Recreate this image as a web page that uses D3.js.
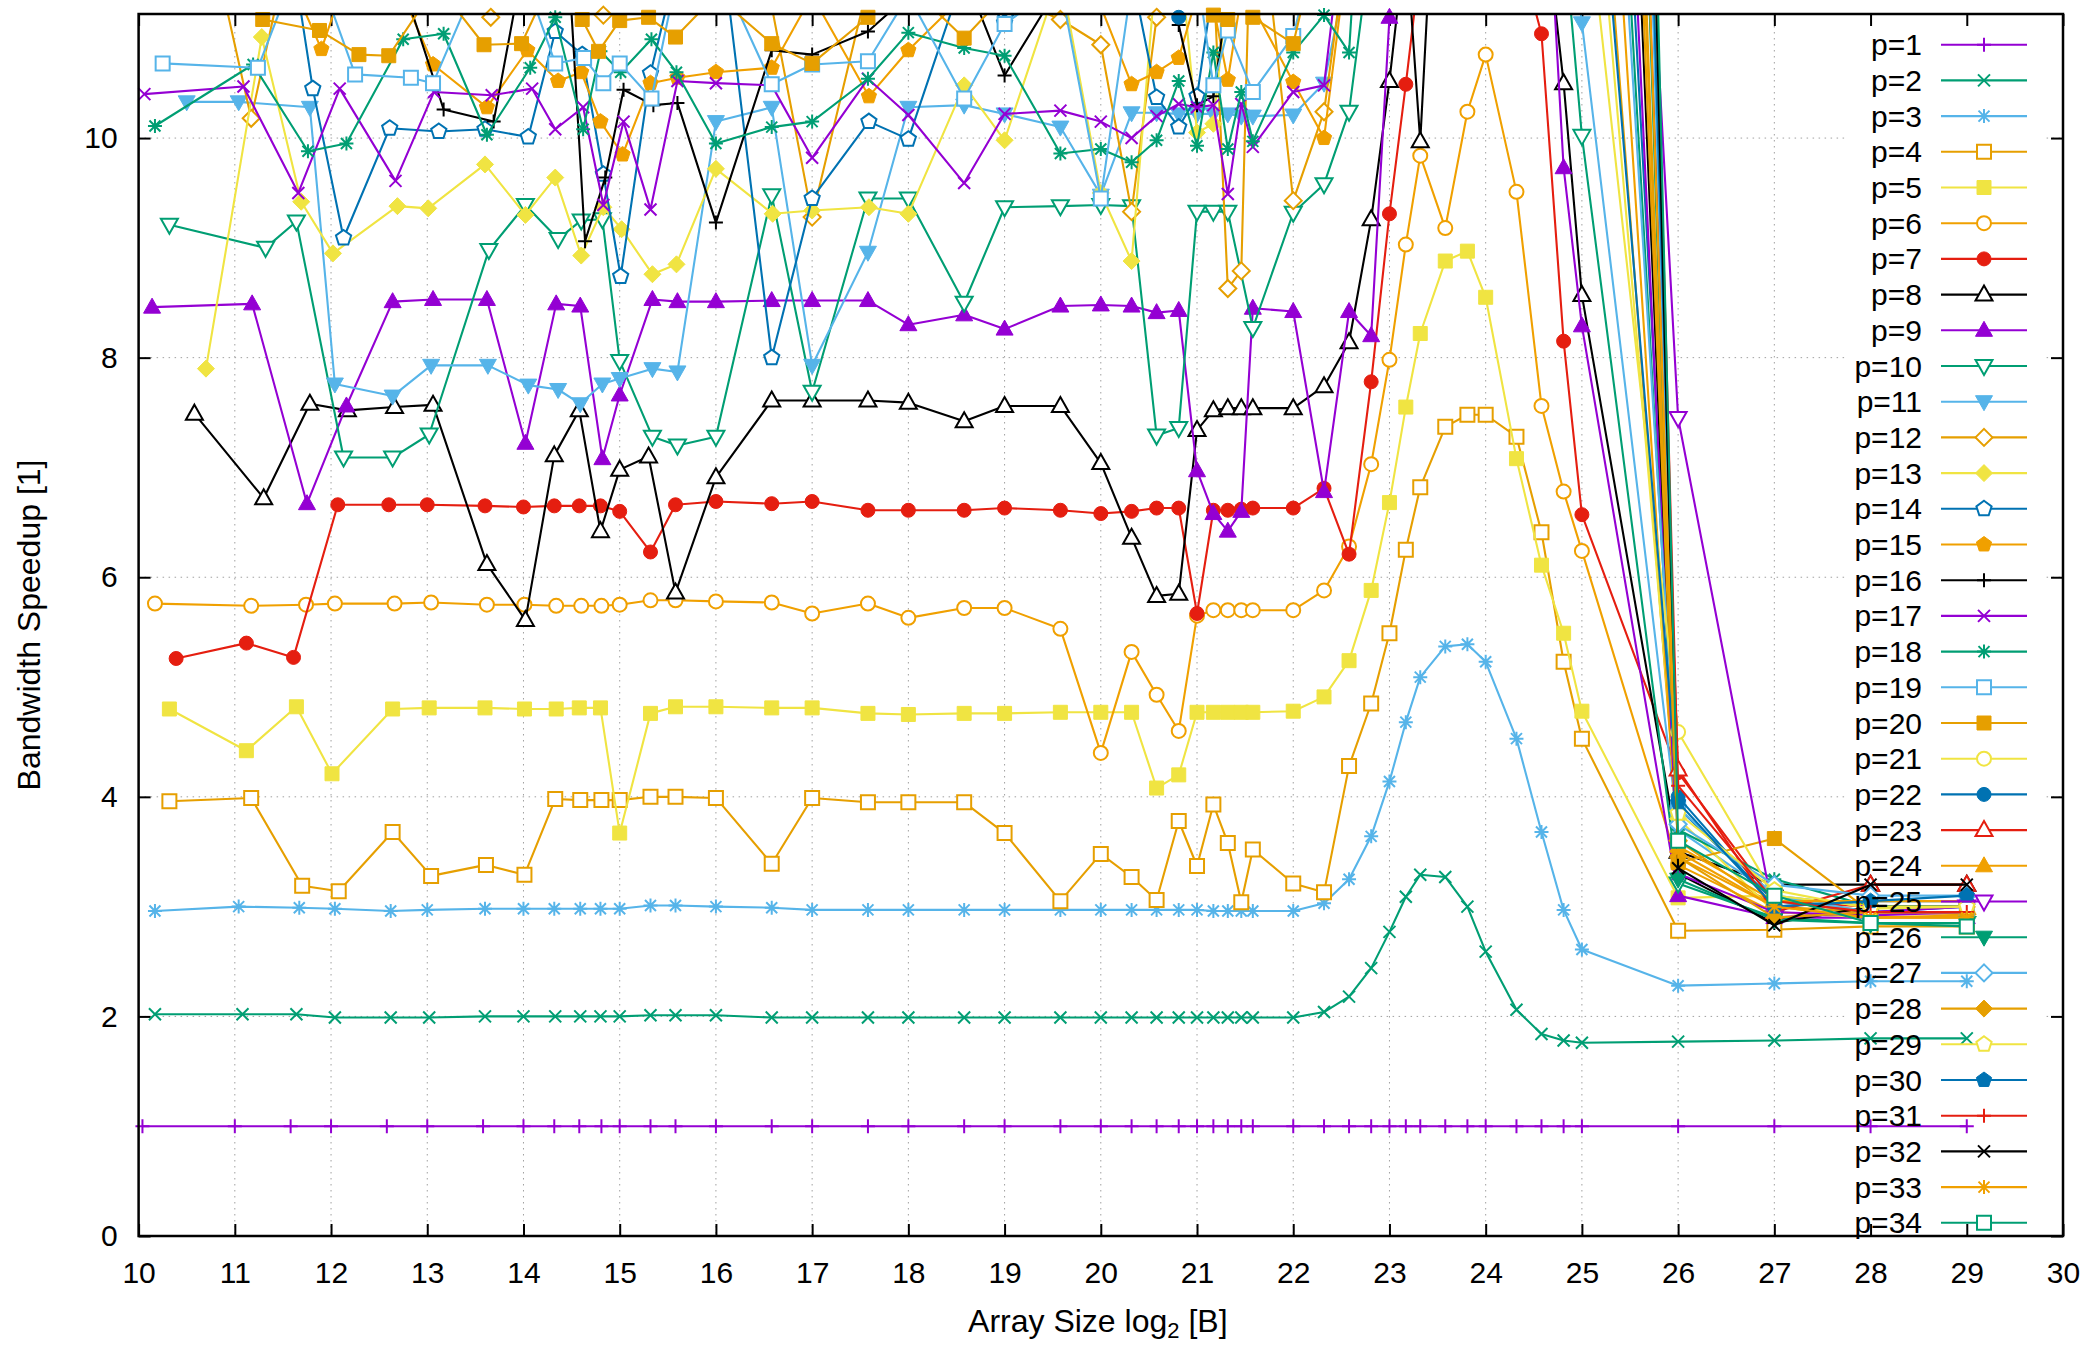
<!DOCTYPE html>
<html><head><meta charset="utf-8">
<script src="https://cdn.jsdelivr.net/npm/d3@7"></script>
<style>
body{margin:0;background:#fff}
svg{display:block}
text{font-family:"Liberation Sans",Arial,sans-serif}
</style>
</head><body>
<svg id="c" width="2090" height="1347"></svg>
<script>
// ---------------- DATA ----------------
const xTicks = [10,11,12,13,14,15,16,17,18,19,20,21,22,23,24,25,26,27,28,29,30];
const yTicks = [0,2,4,6,8,10];
const seriesNames = d3.range(1,35).map(p => "p=" + p);
const seriesColors = ["#9400d3","#009e73","#56b4e9","#e69f00","#f0e442","#f0a000","#e51e10","#000000",
  "#9400d3","#009e73","#56b4e9","#e69f00","#f0e442","#0072b2","#f0a000","#000000",
  "#9400d3","#009e73","#56b4e9","#e69f00","#f0e442","#0072b2","#e51e10","#f0a000",
  "#9400d3","#009e73","#56b4e9","#e69f00","#f0e442","#0072b2","#e51e10","#000000","#f0a000","#009e73"];

const sizes = [10.04,11,11.58,12,12.58,13,13.58,14,14.32,14.58,14.81,15,15.32,15.58,16,16.58,17,17.58,18,18.58,19,19.58,20,20.32,20.58,20.81,21,21.17,21.32,21.46,21.58,22,22.32,22.58,22.81,23,23.17,23.32,23.58,23.81,24,24.32,24.58,24.81,25,26,27,28,29];
const p1 = [1,1,1,1,1,1,1,1,1,1,1,1,1,1,1,1,1,1,1,1,1,1,1,1,1,1,1,1,1,1,1,1,1,1,1,1,1,1,1,1,1,1,1,1,1,1,1,1,1];

const p2 = [[10.17,2.02],[11.08,2.02],[11.64,2.02],[12.04,1.99],[12.62,1.99],[13.02,1.99],[13.6,2.0],[14.0,2.0],[14.33,2.0],[14.59,2.0],[14.8,2.0],[15.0,2.0],[15.32,2.01],[15.58,2.01],[16,2.01],[16.58,1.99],[17,1.99],[17.58,1.99],[18,1.99],[18.58,1.99],[19,1.99],[19.58,1.99],[20,1.99],[20.32,1.99],[20.58,1.99],[20.81,1.99],[21,1.99],[21.17,1.99],[21.32,1.99],[21.46,1.99],[21.58,1.99],[22,1.99],[22.32,2.04],[22.58,2.18],[22.81,2.44],[23,2.77],[23.17,3.09],[23.32,3.29],[23.58,3.27],[23.81,3.0],[24,2.59],[24.32,2.06],[24.58,1.84],[24.81,1.78],[25,1.76],[26,1.77],[27,1.78],[28,1.8],[29,1.8]];
const p3 = [[10.17,2.96],[11.04,3.0],[11.67,2.99],[12.04,2.98],[12.62,2.96],[13.0,2.97],[13.6,2.98],[14.0,2.98],[14.32,2.98],[14.59,2.98],[14.8,2.98],[15.0,2.98],[15.32,3.01],[15.58,3.01],[16,3.0],[16.58,2.99],[17,2.97],[17.58,2.97],[18,2.97],[18.58,2.97],[19,2.97],[19.58,2.97],[20,2.97],[20.32,2.97],[20.58,2.97],[20.81,2.97],[21,2.97],[21.17,2.96],[21.32,2.96],[21.46,2.96],[21.58,2.96],[22,2.96],[22.32,3.03],[22.58,3.25],[22.81,3.64],[23,4.14],[23.17,4.68],[23.32,5.09],[23.58,5.37],[23.81,5.39],[24,5.23],[24.32,4.53],[24.58,3.68],[24.81,2.97],[25,2.61],[26,2.28],[27,2.3],[28,2.32],[29,2.32]];
const p4 = [[10.32,3.96],[11.17,3.99],[11.7,3.19],[12.08,3.14],[12.64,3.68],[13.04,3.28],[13.61,3.38],[14.01,3.29],[14.33,3.98],[14.59,3.97],[14.81,3.97],[15.0,3.97],[15.32,4.0],[15.58,4.0],[16,3.99],[16.58,3.39],[17,3.99],[17.58,3.95],[18,3.95],[18.58,3.95],[19,3.67],[19.58,3.05],[20,3.48],[20.32,3.27],[20.58,3.06],[20.81,3.78],[21,3.37],[21.17,3.93],[21.32,3.58],[21.46,3.04],[21.58,3.52],[22,3.21],[22.32,3.13],[22.58,4.28],[22.81,4.85],[23,5.49],[23.17,6.25],[23.32,6.82],[23.58,7.37],[23.81,7.48],[24,7.48],[24.32,7.28],[24.58,6.41],[24.81,5.23],[25,4.53],[26,2.78],[27,2.79],[28,2.82],[29,2.82]];
const p5 = [[10.32,4.8],[11.12,4.42],[11.64,4.82],[12.01,4.21],[12.64,4.8],[13.02,4.81],[13.6,4.81],[14.01,4.8],[14.34,4.8],[14.58,4.81],[14.8,4.81],[15.0,3.67],[15.32,4.76],[15.58,4.82],[16,4.82],[16.58,4.81],[17,4.81],[17.58,4.76],[18,4.75],[18.58,4.76],[19,4.76],[19.58,4.77],[20,4.77],[20.32,4.77],[20.58,4.08],[20.81,4.2],[21,4.77],[21.17,4.77],[21.32,4.77],[21.46,4.77],[21.58,4.77],[22,4.78],[22.32,4.91],[22.58,5.24],[22.81,5.88],[23,6.68],[23.17,7.55],[23.32,8.22],[23.58,8.88],[23.81,8.97],[24,8.55],[24.32,7.08],[24.58,6.11],[24.81,5.49],[25,4.78],[26,3.08],[27,3.1],[28,2.95],[29,2.95]];
const p6 = [[10.17,5.76],[11.17,5.74],[11.74,5.75],[12.04,5.76],[12.66,5.76],[13.04,5.77],[13.62,5.75],[14.01,5.75],[14.34,5.74],[14.6,5.74],[14.81,5.74],[15.0,5.75],[15.32,5.79],[15.58,5.79],[16,5.78],[16.58,5.77],[17,5.67],[17.58,5.76],[18,5.63],[18.58,5.72],[19,5.72],[19.58,5.53],[20,4.4],[20.32,5.32],[20.58,4.93],[20.81,4.6],[21,5.65],[21.17,5.7],[21.32,5.7],[21.46,5.7],[21.58,5.7],[22,5.7],[22.32,5.88],[22.58,6.28],[22.81,7.03],[23,7.98],[23.17,9.03],[23.32,9.84],[23.58,9.18],[23.81,10.24],[24,10.76],[24.32,9.51],[24.58,7.56],[24.81,6.78],[25,6.24],[26,3.38],[27,2.95],[28,2.9],[29,2.9]];
const p7 = [[10.39,5.26],[11.12,5.4],[11.61,5.27],[12.07,6.66],[12.6,6.66],[13.0,6.66],[13.6,6.65],[14.0,6.64],[14.32,6.65],[14.58,6.65],[14.8,6.65],[15.0,6.6],[15.32,6.23],[15.58,6.66],[16,6.69],[16.58,6.67],[17,6.69],[17.58,6.61],[18,6.61],[18.58,6.61],[19,6.63],[19.58,6.61],[20,6.58],[20.32,6.6],[20.58,6.63],[20.81,6.63],[21,5.67],[21.17,6.61],[21.32,6.61],[21.46,6.62],[21.58,6.63],[22,6.63],[22.32,6.81],[22.58,6.21],[22.81,7.78],[23,9.31],[23.17,10.49],[23.32,11.6],[23.58,12.6],[23.81,13],[24,13],[24.32,11.8],[24.58,10.95],[24.81,8.15],[25,6.57],[26,4.22],[27,3.05],[28,3.0],[29,3.0]];
const p8 = [[10.58,7.49],[11.3,6.72],[11.78,7.58],[12.17,7.52],[12.66,7.55],[13.06,7.57],[13.62,6.12],[14.02,5.61],[14.32,7.11],[14.58,7.52],[14.8,6.42],[15.0,6.98],[15.3,7.1],[15.58,5.86],[16,6.91],[16.58,7.61],[17,7.61],[17.58,7.61],[18,7.59],[18.58,7.42],[19,7.56],[19.58,7.56],[20,7.04],[20.32,6.36],[20.58,5.83],[20.81,5.85],[21,7.34],[21.17,7.52],[21.32,7.54],[21.46,7.54],[21.58,7.54],[22,7.54],[22.32,7.74],[22.58,8.14],[22.81,9.26],[23,10.52],[23.17,11.85],[23.32,9.97],[23.58,14.3],[23.81,14.5],[24,14.5],[24.32,13.5],[24.58,12.3],[24.81,10.5],[25,8.57],[26,3.5],[27,3.2],[28,3.2],[29,3.2]];
const p9 = [[10.14,8.46],[11.18,8.49],[11.75,6.67],[12.16,7.56],[12.64,8.51],[13.06,8.53],[13.62,8.53],[14.02,7.22],[14.34,8.49],[14.59,8.47],[14.82,7.08],[15.0,7.66],[15.34,8.53],[15.6,8.51],[16,8.51],[16.58,8.52],[17,8.52],[17.58,8.52],[18,8.3],[18.58,8.39],[19,8.26],[19.58,8.47],[20,8.48],[20.32,8.47],[20.58,8.41],[20.81,8.43],[21,6.97],[21.17,6.58],[21.32,6.42],[21.46,6.6],[21.58,8.45],[22,8.42],[22.32,6.78],[22.58,8.42],[22.81,8.2],[23,11.1],[23.17,13],[23.32,14],[23.58,14.5],[23.81,14.5],[24,14.5],[24.32,14],[24.58,13.3],[24.81,9.73],[25,8.29],[26,3.1],[27,2.9],[28,2.9],[29,2.9]];
const p10 = [[10.32,9.21],[11.32,9.0],[11.64,9.24],[12.13,7.09],[12.64,7.09],[13.02,7.3],[13.64,8.98],[14.02,9.39],[14.36,9.08],[14.6,9.25],[14.82,9.26],[15.0,7.97],[15.34,7.28],[15.6,7.2],[16,7.28],[16.58,9.48],[17,7.69],[17.58,9.45],[18,9.45],[18.58,8.5],[19,9.37],[19.58,9.38],[20,9.39],[20.32,9.38],[20.58,7.29],[20.81,7.36],[21,9.33],[21.17,9.33],[21.32,9.33],[21.58,8.27],[22,9.32],[22.32,9.58],[22.58,10.24],[22.81,11.8],[23,13],[23.17,14],[23.32,14.8],[23.58,15.2],[23.81,15.4],[24,15.2],[24.32,14.6],[24.58,13.2],[24.81,11.9],[25,10.02],[26,3.21],[27,2.9],[28,2.85],[29,2.85]];
const p11 = [[10.5,10.33],[11.04,10.33],[11.78,10.28],[12.04,7.76],[12.64,7.65],[13.04,7.93],[13.63,7.93],[14.05,7.75],[14.36,7.71],[14.59,7.58],[14.82,7.76],[15.0,7.81],[15.34,7.9],[15.6,7.87],[16,10.15],[16.58,10.28],[17,7.93],[17.58,8.96],[18,10.28],[18.58,10.3],[19,10.22],[19.58,10.1],[20,9.48],[20.32,10.23],[20.58,10.23],[20.81,10.22],[21,10.22],[21.17,10.22],[21.32,10.22],[21.46,10.2],[21.58,10.2],[22,10.21],[22.32,10.5],[22.58,11.6],[22.81,13],[23,14],[23.32,15],[23.58,15.5],[24,15.5],[24.32,15],[24.58,14],[24.81,12.5],[25,11.05],[26,3.7],[27,3.1],[28,3.0],[29,3.0]];
const p12 = [[10.58,12.5],[11.17,10.18],[11.75,12.5],[12.17,12.2],[12.6,11.8],[13.04,11.6],[13.66,11.1],[14.04,11.4],[14.36,11.5],[14.6,11.3],[14.83,11.12],[15.04,11.5],[15.34,11.6],[15.6,11.3],[16,11.3],[16.58,11.2],[17,9.28],[17.58,11.4],[18,11.5],[18.58,11.6],[19,11.3],[19.58,11.08],[20,10.85],[20.32,9.33],[20.58,11.1],[20.81,11.3],[21,14.8],[21.32,8.63],[21.46,8.79],[21.58,12.8],[22,9.43],[22.32,10.24],[22.58,11.9],[22.81,14],[23,15],[23.58,16],[24,16.5],[24.58,16.5],[24.81,16],[25,15],[26,3.6],[27,3.0],[28,2.95],[29,2.93]];
const p13 = [[10.7,7.9],[11.28,10.92],[11.69,9.42],[12.02,8.95],[12.69,9.38],[13.01,9.36],[13.6,9.76],[14.02,9.3],[14.33,9.64],[14.6,8.93],[14.83,9.37],[15.02,9.17],[15.34,8.76],[15.59,8.85],[16,9.72],[16.59,9.31],[17,9.34],[17.59,9.37],[18,9.31],[18.58,10.48],[19,9.98],[19.58,11.5],[20,9.5],[20.32,8.88],[20.58,11.6],[20.81,11.8],[21,10.05],[21.17,10.13],[21.32,11.4],[21.46,11.5],[21.58,11.6],[22,11.8],[22.32,12.5],[22.58,13.5],[23,15],[23.58,16],[24,16.5],[24.58,16],[24.81,15],[25,14],[26,3.8],[27,2.95],[28,2.9],[29,2.9]];
const p14 = [[10.58,12.3],[11.2,13.9],[11.81,10.45],[12.13,9.09],[12.61,10.09],[13.12,10.06],[13.6,10.08],[14.05,10.01],[14.33,10.97],[14.61,10.76],[14.83,9.67],[15.01,8.74],[15.32,10.59],[15.6,11.6],[16,12.2],[16.58,8.0],[17,9.45],[17.59,10.15],[18,9.99],[18.58,11.5],[19,11.05],[19.58,11.5],[20,11.6],[20.32,11.5],[20.58,10.37],[20.81,10.1],[21,10.38],[21.17,11.4],[21.32,11.5],[21.58,11.6],[22,11.7],[22.58,13],[23,14.5],[23.58,16],[24,17],[24.58,18],[24.81,19],[25,20],[26,3.9],[27,3.05],[28,2.95],[29,3.0]];
const p15 = [[10.58,12.4],[11.2,12.2],[11.9,10.81],[12.17,11.5],[12.6,11.6],[13.06,10.67],[13.62,10.28],[14.04,10.8],[14.36,10.52],[14.6,10.6],[14.8,10.15],[15.03,9.85],[15.32,10.5],[15.6,10.55],[16,10.6],[16.58,10.64],[17,11.3],[17.59,10.38],[18,10.8],[18.58,11.3],[19,11.5],[19.58,11.3],[20,11.2],[20.32,10.49],[20.58,10.6],[20.81,10.73],[21,11.3],[21.17,11.2],[21.32,10.53],[21.46,11.3],[21.58,11.2],[22,10.51],[22.32,10.0],[22.58,11.8],[23,14],[23.58,15.5],[24,16],[24.58,17],[24.81,17.5],[25,17],[26,3.45],[27,3.0],[28,2.9],[29,2.92]];
const p16 = [[10.58,12.5],[11.17,12.4],[11.75,12.2],[12.17,12],[12.6,11.8],[13.17,10.26],[13.69,10.15],[14.04,11.8],[14.36,13.2],[14.64,9.06],[14.85,9.64],[15.04,10.44],[15.35,10.3],[15.6,10.32],[16,9.23],[16.58,10.8],[17,10.76],[17.58,10.97],[18,11.3],[18.58,11.5],[19,10.57],[19.58,11.4],[20,11.5],[20.32,11.6],[20.58,11.4],[20.81,11.03],[21,10.3],[21.17,10.38],[21.32,11.3],[21.46,11.5],[21.58,11.6],[22,11.8],[22.58,13],[23,15],[23.58,17],[24,18],[24.58,20],[24.81,22],[25,24],[26,3.3],[27,2.85],[28,3.0],[29,3.0]];
const p17 = [[10.06,10.4],[11.09,10.47],[11.66,9.5],[12.09,10.45],[12.67,9.61],[13.07,10.42],[13.67,10.39],[14.09,10.45],[14.33,10.08],[14.62,10.28],[14.83,9.39],[15.04,10.15],[15.32,9.35],[15.6,10.52],[16,10.5],[16.58,10.48],[17,9.82],[17.58,10.54],[18,10.21],[18.58,9.59],[19,10.22],[19.58,10.25],[20,10.15],[20.32,10.0],[20.58,10.2],[20.81,10.31],[21,10.28],[21.17,10.3],[21.32,9.49],[21.46,10.31],[21.58,9.92],[22,10.42],[22.32,10.48],[22.58,12.4],[23,14],[23.58,16],[24,17],[24.58,19],[24.81,21],[25,22],[26,3.3],[27,2.95],[28,2.92],[29,2.95]];
const p18 = [[10.17,10.11],[11.19,10.67],[11.76,9.88],[12.16,9.95],[12.75,10.9],[13.17,10.95],[13.62,10.03],[14.07,10.64],[14.33,11.1],[14.62,10.08],[14.8,10.79],[15.01,10.6],[15.33,10.9],[15.59,10.6],[16,9.95],[16.58,10.1],[17,10.15],[17.58,10.54],[18,10.96],[18.58,10.82],[19,10.75],[19.58,9.86],[20,9.9],[20.32,9.78],[20.58,9.98],[20.81,10.52],[21,9.93],[21.17,10.78],[21.32,9.9],[21.46,10.42],[21.58,9.97],[22,10.78],[22.32,11.12],[22.58,10.78],[22.81,14],[23,15],[23.58,17],[24,18],[24.58,18.5],[24.81,19],[25,19],[26,3.7],[27,3.25],[28,3.0],[29,3.0]];
const p19 = [[10.25,10.68],[11.24,10.64],[11.75,11.8],[12.25,10.58],[12.83,10.55],[13.06,10.5],[13.6,11.6],[14.0,11.5],[14.33,10.68],[14.63,10.73],[14.83,10.5],[15.0,10.68],[15.33,10.36],[15.6,11.5],[16,11.6],[16.58,10.49],[17,10.67],[17.58,10.7],[18,11.3],[18.58,10.36],[19,11.04],[19.58,11.4],[20,9.45],[20.32,11.4],[20.58,11.5],[20.81,11.6],[21,11.5],[21.17,10.48],[21.32,10.98],[21.58,10.42],[22,10.93],[22.58,13],[23,14.5],[23.58,16],[24,17],[24.58,17.5],[24.81,18],[25,18],[26,3.9],[27,3.1],[28,2.95],[29,2.95]];
const p20 = [[10.58,12],[11.29,11.08],[11.88,10.98],[12.29,10.76],[12.6,10.75],[13.1,11.4],[13.59,10.85],[13.98,10.86],[14.32,11.5],[14.61,11.08],[14.78,10.79],[15.0,11.07],[15.3,11.1],[15.58,10.92],[16,11.3],[16.58,10.86],[17,10.68],[17.58,11.1],[18,11.4],[18.58,10.91],[19,11.3],[19.58,11.5],[20,11.6],[20.32,11.5],[20.58,11.4],[20.81,11.3],[21,11.4],[21.17,11.12],[21.32,11.08],[21.46,11.3],[21.58,11.1],[22,10.86],[22.58,13],[23,15],[23.58,18],[24,20],[24.58,22],[24.81,24],[25,25],[26,3.4],[27,3.62],[28,2.95],[29,2.95]];
const p21 = [[10.04,12.5],[11,12.8],[12,13],[13,13.2],[14,13],[15,13.4],[16,13.5],[17,13.6],[18,13.8],[19,14],[20,14],[21,14.2],[22,14.5],[22.58,16],[23,18],[23.58,20],[24,21],[24.58,19],[24.81,15],[25,12.6],[26,4.59],[27,3.1],[28,3.0],[29,3.0]];
const p22 = [[10.04,13],[11,13.2],[12,13.5],[13,13.6],[14,13.8],[15,14],[16,14.2],[17,14.3],[18,14.5],[19,14.5],[20,13],[20.58,12],[20.81,11.1],[21,12.5],[22,14],[22.58,16],[23,18],[23.58,20],[24,21],[24.58,19],[24.81,16.5],[25,14.5],[26,4.0],[27,3.0],[28,3.05],[29,3.05]];
const hiSizes = [10.04,12,14,16,18,20,22,23,24,24.58,24.81,25,26,27,28,29];
const p23 = [13.5,14,14.2,14.5,14.8,15,15.5,19,23,26,27,28,4.25,2.95,3.2,3.2];
const p24 = [14,14.2,14.5,14.8,15,15.3,15.8,19.5,23.5,25,26,26,3.55,3.05,3.05,3.05];
const p25 = [14,14.5,14.8,15,15.3,15.6,16,20,24,25,24.5,23.4,7.45,2.9,2.95,3.0];
const p26 = [14.5,15,15.2,15.5,15.8,16,16.5,20.5,25,28,29,30,3.25,2.88,2.85,2.85];
const p27 = [15,15.3,15.6,16,16.2,16.5,17,21,26,29,31,32,3.75,3.2,3.1,3.1];
const p28 = [15,15.5,15.8,16,16.4,16.8,17.2,21.5,26,27,27,27,3.45,2.9,2.95,2.95];
const p29 = [15.5,16,16.2,16.5,16.8,17,17.5,22,27,31,33,35,3.85,3.15,2.98,3.0];
const p30 = [16,16.3,16.6,16.9,17.2,17.5,18,22.5,27,31,32,33,3.95,3.0,3.05,3.1];
const p31 = [16,16.5,16.8,17,17.5,17.8,18.3,23,28,33,35,36,4.1,3.05,2.95,2.95];
const p32 = [16.5,17,17.3,17.6,18,18.3,18.8,23.5,29,35,37,38,3.35,2.83,3.2,3.2];
const p33 = [17,17.2,17.5,17.8,18.2,18.5,19,24,28,30,30,30,3.5,3.0,2.9,2.9];
const p34 = [17,17.5,17.8,18,18.5,18.8,19.3,24.5,30,36,38,40,3.6,3.1,2.85,2.82];

// ---------------- BUILD ----------------
const zip = (xs, ys) => xs.map((v,i) => [v, ys[i]]);
const allSeries = [zip(sizes,p1),p2,p3,p4,p5,p6,p7,p8,p9,p10,p11,p12,p13,p14,p15,p16,p17,p18,p19,p20,p21,p22,
  zip(hiSizes,p23),zip(hiSizes,p24),zip(hiSizes,p25),zip(hiSizes,p26),zip(hiSizes,p27),zip(hiSizes,p28),
  zip(hiSizes,p29),zip(hiSizes,p30),zip(hiSizes,p31),zip(hiSizes,p32),zip(hiSizes,p33),zip(hiSizes,p34)];

const L=138.6, R=2063, T=14, B=1236;
const YMAX = 11.13;
const x = d3.scaleLinear().domain([10,30]).range([L,R]);
const y = d3.scaleLinear().domain([0,YMAX]).range([B,T]);
const svg = d3.select("#c");
const FONT = 30;
const TITLE_FONT = 32;

// grid
const grid = svg.append("g");
xTicks.filter(t => t>10 && t<30).forEach(t => grid.append("line")
  .attr("x1",x(t)).attr("x2",x(t)).attr("y1",T).attr("y2",B)
  .attr("stroke","#a0a0a0").attr("stroke-width",1).attr("stroke-dasharray","1.5,4.5"));
yTicks.filter(t => t>0).forEach(t => grid.append("line")
  .attr("x1",L).attr("x2",R).attr("y1",y(t)).attr("y2",y(t))
  .attr("stroke","#a0a0a0").attr("stroke-width",1).attr("stroke-dasharray","1.5,4.5"));

// legend background (hides grid)
const legX = 1848, legW = 197;
svg.append("rect").attr("x",legX).attr("y",T+1).attr("width",legW).attr("height",1241-T)
  .attr("fill","#fff");

// axes
function styleAxis(g){
  g.select(".domain").remove();
  g.selectAll(".tick line").attr("stroke","#000").attr("stroke-width",2);
  g.selectAll("text").attr("font-size",FONT).attr("fill","#000")
    .attr("font-family",'"Liberation Sans",Arial,sans-serif');
}
svg.append("g").attr("transform",`translate(0,${B})`)
  .call(d3.axisBottom(x).tickValues(xTicks).tickSizeInner(-12).tickSizeOuter(0).tickPadding(26))
  .call(styleAxis);
svg.append("g").attr("transform",`translate(0,${T})`)
  .call(d3.axisTop(x).tickValues(xTicks).tickSizeInner(-12).tickSizeOuter(0).tickFormat(""))
  .call(styleAxis);
svg.append("g").attr("transform",`translate(${L},0)`)
  .call(d3.axisLeft(y).tickValues(yTicks).tickSizeInner(-12).tickSizeOuter(0).tickPadding(21))
  .call(styleAxis);
svg.append("g").attr("transform",`translate(${R},0)`)
  .call(d3.axisRight(y).tickValues(yTicks).tickSizeInner(-12).tickSizeOuter(0).tickFormat(""))
  .call(styleAxis);

// clip
svg.append("defs").append("clipPath").attr("id","plotclip").append("rect")
  .attr("x",L).attr("y",T).attr("width",R-L).attr("height",B-T);

// markers
function markerPath(type, cx, cy){
  const s = 7;
  switch(type){
    case 1: return `M${cx-s},${cy}H${cx+s}M${cx},${cy-s}V${cy+s}`;
    case 2: {const d=6; return `M${cx-d},${cy-d}L${cx+d},${cy+d}M${cx-d},${cy+d}L${cx+d},${cy-d}`;}
    case 3: {const d=5.5; return `M${cx-s},${cy}H${cx+s}M${cx},${cy-s}V${cy+s}M${cx-d},${cy-d}L${cx+d},${cy+d}M${cx-d},${cy+d}L${cx+d},${cy-d}`;}
    case 4: case 5: return `M${cx-s},${cy-s}H${cx+s}V${cy+s}H${cx-s}Z`;
    case 6: case 7: {const r=7; return `M${cx-r},${cy}A${r},${r} 0 1,0 ${cx+r},${cy}A${r},${r} 0 1,0 ${cx-r},${cy}Z`;}
    case 8: case 9: return `M${cx},${cy-9}L${cx+8.5},${cy+6}L${cx-8.5},${cy+6}Z`;
    case 10: case 11: return `M${cx},${cy+9}L${cx+8.5},${cy-6}L${cx-8.5},${cy-6}Z`;
    case 12: case 13: {const r=8.5; return `M${cx},${cy-r}L${cx+r},${cy}L${cx},${cy+r}L${cx-r},${cy}Z`;}
    case 14: case 15: {
      const r=8; let p="";
      for(let k=0;k<5;k++){const a=-Math.PI/2+k*2*Math.PI/5; p+=(k?"L":"M")+(cx+r*Math.cos(a))+","+(cy+r*Math.sin(a));}
      return p+"Z";
    }
  }
}
function drawMarker(g, type, cx, cy, color){
  const filled = [5,7,9,11,13,15].includes(type);
  const open = [4,6,8,10,12,14].includes(type);
  g.append("path").attr("d", markerPath(type,cx,cy))
    .attr("fill", filled ? color : (open ? "#fff" : "none"))
    .attr("stroke", color).attr("stroke-width", filled ? 1 : 2)
    .attr("stroke-linejoin","miter");
}

const line = d3.line().x(d => x(d[0])).y(d => y(d[1]));
const plotG = svg.append("g");
allSeries.forEach((data, i) => {
  const color = seriesColors[i];
  const type = (i % 15) + 1;
  const g = plotG.append("g");
  g.append("path").datum(data).attr("d", line).attr("fill","none")
    .attr("stroke", color).attr("stroke-width", 2.1).attr("stroke-linejoin","round")
    .attr("clip-path","url(#plotclip)");
  data.filter(d => d[1] <= YMAX && d[1] >= 0).forEach(d => drawMarker(g, type, x(d[0]), y(d[1]), color));
});

// legend
const leg = svg.append("g");
seriesNames.forEach((name, i) => {
  const yy = 44.7 + i*35.7;
  const color = seriesColors[i];
  leg.append("text").attr("x",1922).attr("y",yy).attr("dy","0.35em")
    .attr("text-anchor","end").attr("font-size",FONT).attr("fill","#000").text(name);
  leg.append("line").attr("x1",1941).attr("x2",2027).attr("y1",yy).attr("y2",yy)
    .attr("stroke",color).attr("stroke-width",2.1);
  drawMarker(leg, (i % 15) + 1, 1984, yy, color);
});

// border
svg.append("rect").attr("x",L).attr("y",T).attr("width",R-L).attr("height",B-T)
  .attr("fill","none").attr("stroke","#000").attr("stroke-width",2.5);

// axis labels
const xl = svg.append("text").attr("x",(L+R)/2 - 3).attr("y",1332).attr("text-anchor","middle")
  .attr("font-size",TITLE_FONT).attr("fill","#000");
xl.append("tspan").text("Array Size log");
xl.append("tspan").attr("font-size",22).attr("dy",6).text("2");
xl.append("tspan").attr("dy",-6).text(" [B]");

svg.append("text").attr("transform",`translate(29,${(T+B)/2}) rotate(-90)`)
  .attr("text-anchor","middle").attr("dy","0.35em").attr("font-size",TITLE_FONT).attr("fill","#000")
  .text("Bandwidth Speedup [1]");
</script>
</body></html>
